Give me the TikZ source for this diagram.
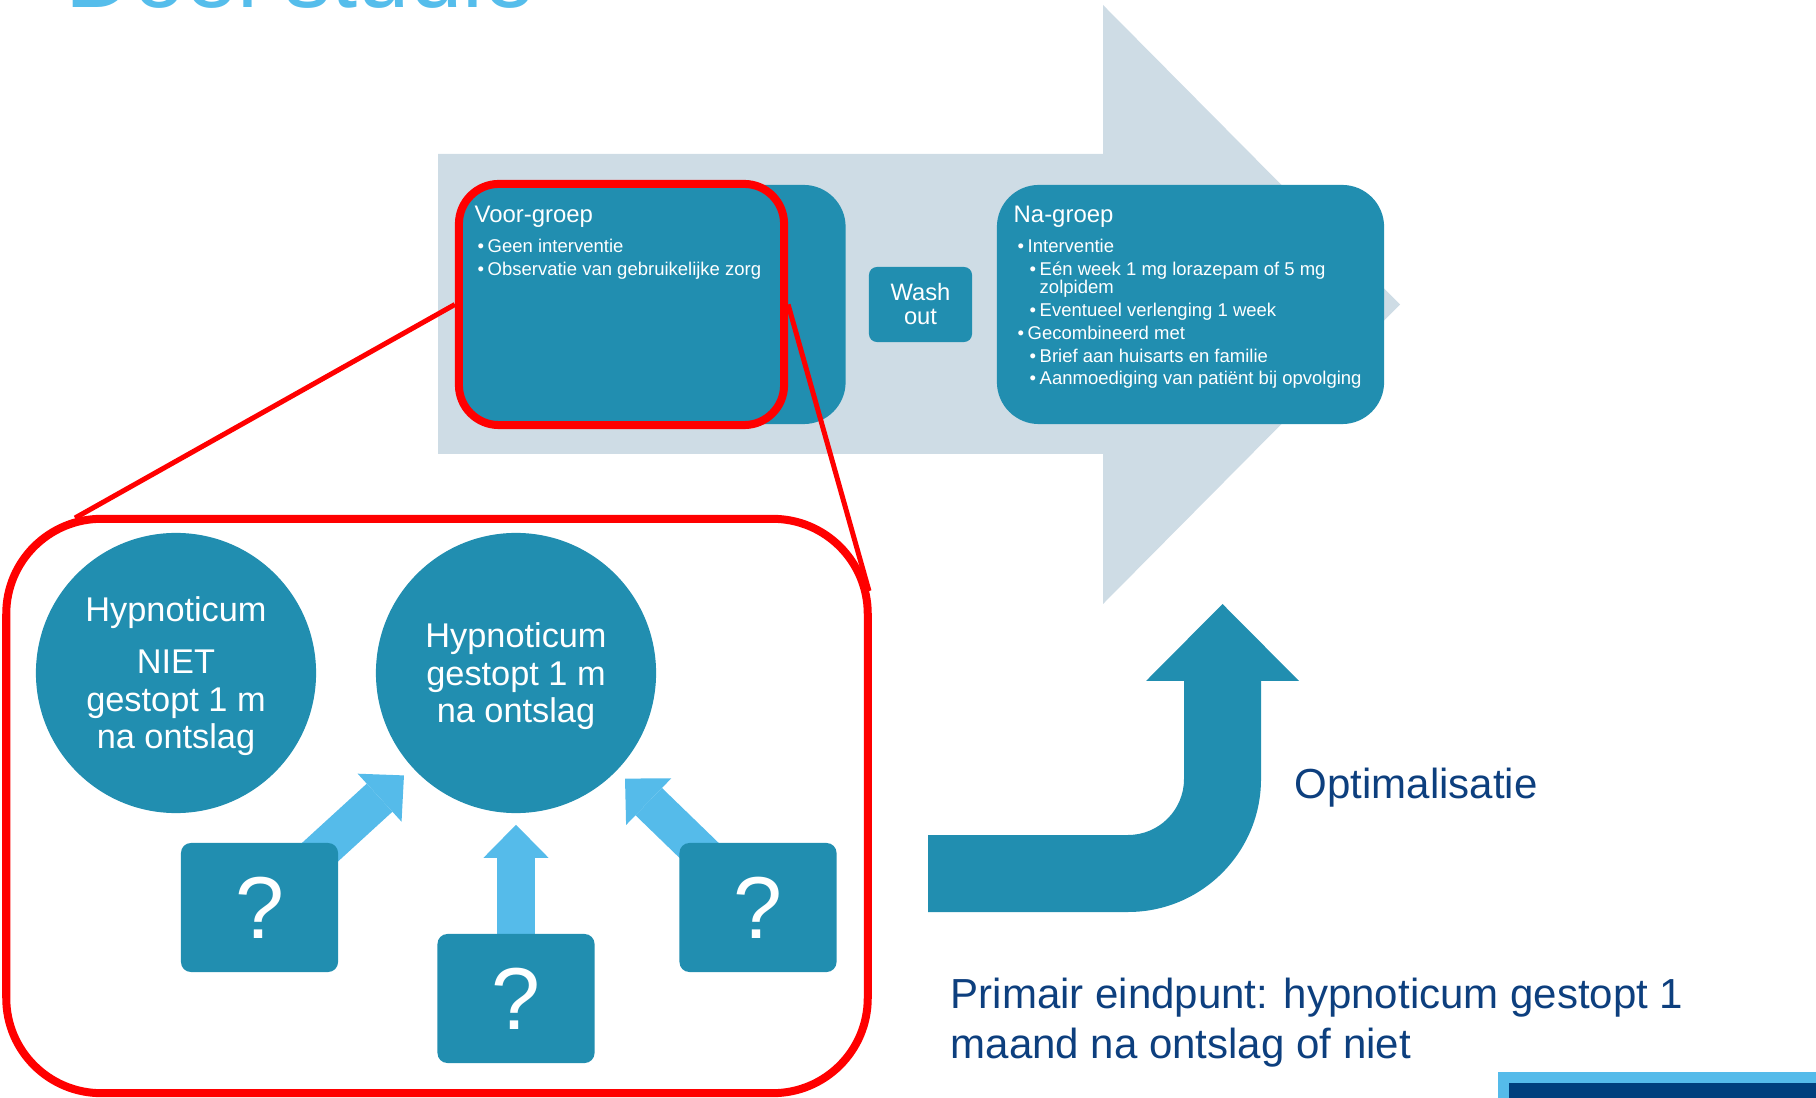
\documentclass[tikz,border=0pt]{standalone}
\usepackage{fontspec}
\setmainfont{Liberation Sans}
\usetikzlibrary{arrows.meta,backgrounds}
\definecolor{boxteal}{HTML}{218EB0}
\definecolor{arrowgray}{HTML}{CEDCE5}
\definecolor{skyblue}{HTML}{55BBEA}
\definecolor{navytext}{HTML}{0D3F7E}
\definecolor{titleblue}{HTML}{55BDEB}
\definecolor{navybar}{HTML}{003F7D}
\newcommand{\blt}{\makebox[0.1cm][l]{\textbullet}}
\newcommand{\fsz}[2]{\fontsize{#1}{#2}\selectfont}

\begin{document}
\begin{tikzpicture}[x=0.01cm,y=-0.01cm,
        grp/.style={rectangle,rounded corners=0.42cm,fill=boxteal,minimum width=3.87cm,
            minimum height=2.39cm,inner sep=0pt},
        txt/.style={anchor=base west,inner sep=0pt,text=white},
        hyp/.style={circle,fill=boxteal,minimum size=2.8cm,inner sep=0pt,text=white,
            align=center,font=\fsz{9.76}{10.67}},
        qbox/.style={rectangle,rounded corners=0.1cm,fill=boxteal,minimum width=1.57cm,
            minimum height=1.29cm,text=white,font=\fsz{25}{30}},
        pointer/.style={draw=skyblue,line width=0.38cm,shorten >=0.11cm,
            -{Triangle[length=0.33cm,width=0.65cm,line width=0pt]}},
        zoomframe/.style={draw=red,line width=0.08cm}]
\clip (0,0) rectangle (1816,1098);

\node[anchor=base west,inner sep=0pt,text=titleblue,font=\fsz{26.7}{32}] (title) at (65,8) {Doel studie};

% tijdlijn
\fill[arrowgray] (438,154) -- (1103,154) -- (1103,5) -- (1400,304.5) -- (1103,604)
    -- (1103,454) -- (438,454) -- cycle;

\node[grp] (voor) at (652,304.5) {};
\node[grp,minimum width=1.03cm,minimum height=0.75cm,rounded corners=0.08cm,text=white,
    align=center,font=\fsz{6.75}{6.83}] (wash) at (920.5,304.5) {Wash\\out};
\node[grp] (na) at (1190.5,304.5) {};

\node[txt,font=\fsz{6.8}{8}] (voortitle) at (474,223) {Voor-groep};
\node[txt,font=\fsz{5.26}{6}] (voor1) at (477,253) {\blt Geen interventie};
\node[txt,font=\fsz{5.26}{6}] (voor2) at (477,276) {\blt Observatie van gebruikelijke zorg};

\node[txt,font=\fsz{6.8}{8}] (natitle) at (1013,223) {Na-groep};
\node[txt,font=\fsz{5.26}{6}] (na1) at (1017,253) {\blt Interventie};
\node[txt,font=\fsz{5.26}{6}] (na2) at (1029,276) {\blt Eén week 1 mg lorazepam of 5 mg};
\node[txt,font=\fsz{5.26}{6}] (na3) at (1039,294) {zolpidem};
\node[txt,font=\fsz{5.26}{6}] (na4) at (1029,317) {\blt Eventueel verlenging 1 week};
\node[txt,font=\fsz{5.26}{6}] (na5) at (1017,340) {\blt Gecombineerd met};
\node[txt,font=\fsz{5.26}{6}] (na6) at (1029,363) {\blt Brief aan huisarts en familie};
\node[txt,font=\fsz{5.26}{6}] (na7) at (1029,385) {\blt Aanmoediging van patiënt bij opvolging};

% uitvergroting
\node[zoomframe,rounded corners=0.4cm,minimum width=3.25cm,minimum height=2.41cm] (focus) at (621.5,304.5) {};
\node[zoomframe,rounded corners=0.95cm,minimum width=8.61cm,minimum height=5.74cm] (detail) at (437,806) {};
\coordinate (lfoot) at (75,518);
\coordinate (rfoot) at (869,591);
\draw[red,line width=0.05cm] (focus.west) -- (lfoot);
\draw[red,line width=0.05cm] (focus.east) -- (rfoot);

\node[hyp] (stil) at (176,673) {\rule{0pt}{0.32cm}Hypnoticum\\[0.145cm]NIET\\gestopt 1 m\\na ontslag};
\node[hyp] (stop) at (516,673) {\rule{0pt}{0.32cm}Hypnoticum\\gestopt 1 m\\na ontslag};

\node[qbox] (q1) at (259.5,907.5) {?};
\node[qbox] (q2) at (516,998.5) {?};
\node[qbox] (q3) at (758,907.5) {?};

\begin{scope}[on background layer]
\draw[pointer] (q1.center) -- (stop);
\draw[pointer] (q2.center) -- (stop);
\draw[pointer] (q3.center) -- (stop);
\end{scope}

% optimalisatie
\fill[boxteal] (928,835) -- (1128,835) arc[start angle=90,end angle=0,radius=56] -- (1184,681)
    -- (1146,681) -- (1222.5,604) -- (1299,681) -- (1261,681) -- (1261,779)
    arc[start angle=0,end angle=90,radius=133] -- (928,912) -- cycle;
\node[anchor=base west,inner sep=0pt,text=navytext,font=\fsz{11.95}{14}] (opt) at (1294,798) {Optimalisatie};

\node[anchor=base west,inner sep=0pt,text=navytext,font=\fsz{11.95}{14}] (prim1) at (950,1008) {Primair eindpunt: hypnoticum gestopt 1};
\node[anchor=base west,inner sep=0pt,text=navytext,font=\fsz{11.95}{14}] (prim2) at (950,1058) {maand na ontslag of niet};

\fill[skyblue] (1498,1072) rectangle (1816,1098);
\fill[navybar] (1509,1083) rectangle (1816,1098);
\end{tikzpicture}
\end{document}
